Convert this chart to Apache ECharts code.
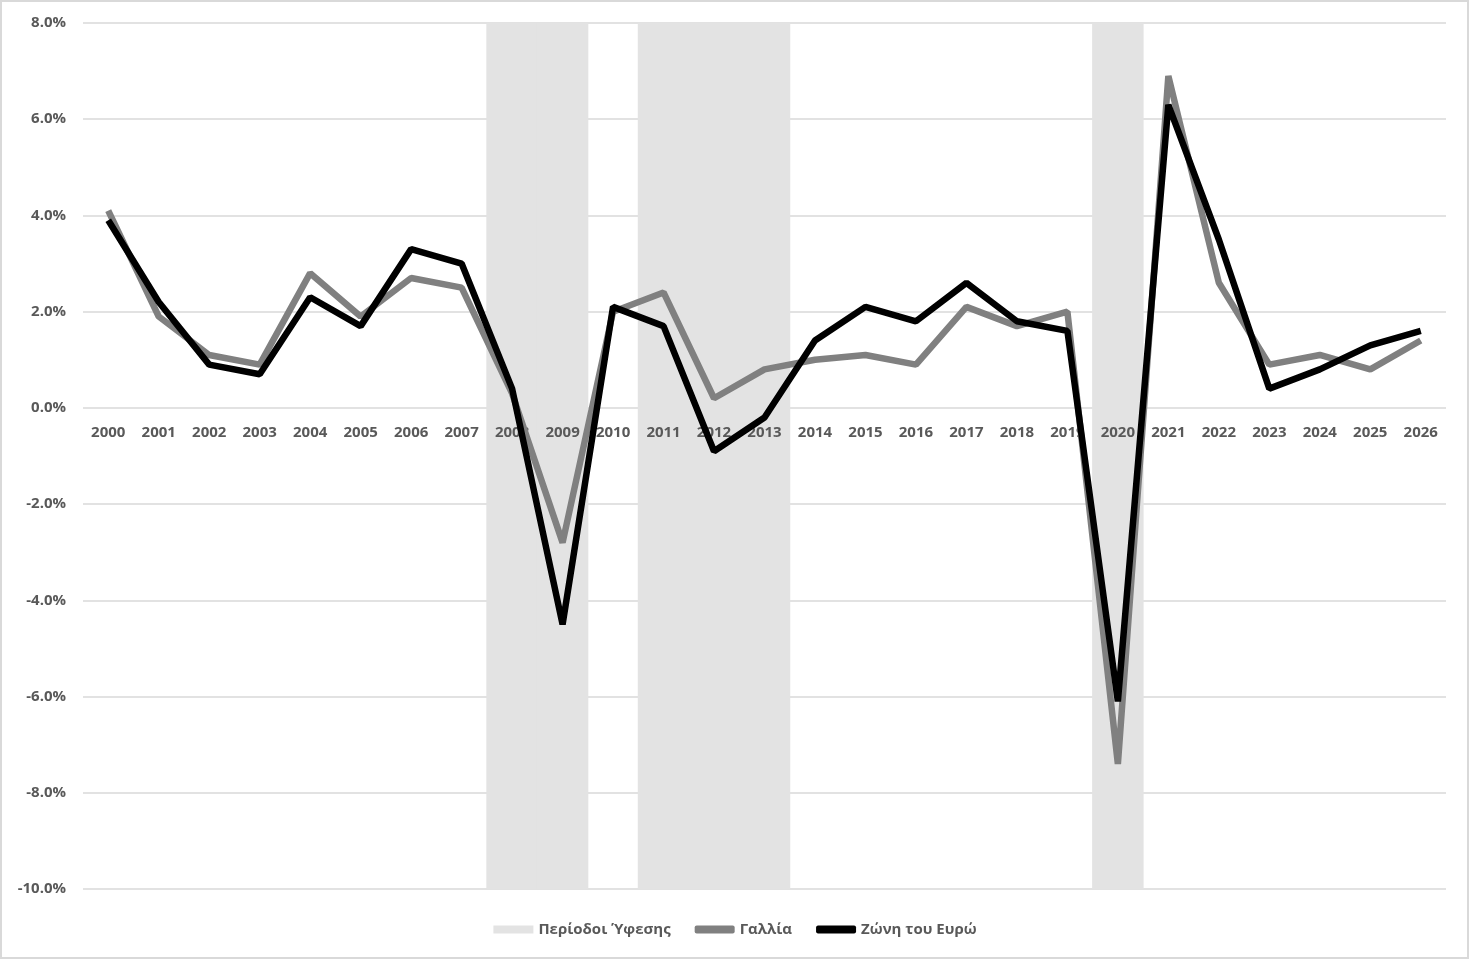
<!DOCTYPE html>
<html><head><meta charset="utf-8">
<script src="https://cdn.jsdelivr.net/npm/echarts@6/dist/echarts.min.js"></script>
<style>html,body{margin:0;padding:0;background:#fff}#c{width:1470px;height:960px}</style>
</head><body><div id="c"></div>
<script>
const years = ['2000','2001','2002','2003','2004','2005','2006','2007','2008','2009','2010','2011','2012','2013','2014','2015','2016','2017','2018','2019','2020','2021','2022','2023','2024','2025','2026'];
const france = [4.1,1.9,1.1,0.9,2.8,1.9,2.7,2.5,0.3,-2.8,2.0,2.4,0.2,0.8,1.0,1.1,0.9,2.1,1.7,2.0,-7.4,6.9,2.6,0.9,1.1,0.8,1.4];
const euro = [3.9,2.2,0.9,0.7,2.3,1.7,3.3,3.0,0.4,-4.5,2.1,1.7,-0.9,-0.2,1.4,2.1,1.8,2.6,1.8,1.6,-6.1,6.3,3.5,0.4,0.8,1.3,1.6];
const recessionYears = ['2008','2009','2011','2012','2013','2020'];
const yMin = -10, yMax = 8, yStep = 2;
const recTop = years.map(y => recessionYears.includes(y) ? yMax : null);
const recBottom = years.map(y => recessionYears.includes(y) ? yMin : null);

const font = 'Open Sans';
const labelStyle = {fontFamily: font, fontSize: 15, fontWeight: 'bold', color: '#595959'};
const chart = echarts.init(document.getElementById('c'));
chart.setOption({
  animation: false,
  backgroundColor: '#fff',
  graphic: [{type:'rect', shape:{x:1,y:1,width:1467,height:957}, style:{fill:'none', stroke:'#d9d9d9', lineWidth:2}, silent:true}],
  grid: {left: 83, right: 24, top: 23, bottom: 71},
  legend: {
    bottom: 18, left: 'center', itemGap: 24, itemWidth: 40, itemHeight: 8,
    textStyle: labelStyle,
    data: [
      {name: 'Περίοδοι Ύφεσης', icon: 'rect', itemStyle: {color: '#e3e3e3'}},
      {name: 'Γαλλία', icon: 'roundRect', itemStyle: {color: '#808080'}},
      {name: 'Ζώνη του Ευρώ', icon: 'roundRect', itemStyle: {color: '#000'}}
    ]
  },
  xAxis: {
    type: 'category', data: years, boundaryGap: true, z: 2,
    axisLine: {show: false, onZero: false}, axisTick: {show: false},
    axisLabel: Object.assign({margin: 17, interval: 0, hideOverlap: false}, labelStyle)
  },
  yAxis: {
    type: 'value', min: yMin, max: yMax, interval: yStep, z: 0,
    axisLine: {show: false}, axisTick: {show: false},
    splitLine: {lineStyle: {color: '#d9d9d9', width: 1.5}},
    axisLabel: Object.assign({margin: 17, formatter: v => v.toFixed(1) + '%'}, labelStyle)
  },
  series: [
    {name: 'Περίοδοι Ύφεσης', type: 'bar', stack: 'rec', data: recTop, barWidth: '102%', itemStyle: {color: '#e3e3e3'}, silent: true, z: 1},
    {name: 'Περίοδοι Ύφεσης', type: 'bar', stack: 'rec', data: recBottom, barWidth: '102%', itemStyle: {color: '#e3e3e3'}, silent: true, z: 1},
    {name: 'Γαλλία', type: 'line', data: france, showSymbol: false, symbol: 'none', lineStyle: {color: '#808080', width: 6.5}, itemStyle: {color: '#808080'}, z: 3},
    {name: 'Ζώνη του Ευρώ', type: 'line', data: euro, showSymbol: false, symbol: 'none', lineStyle: {color: '#000', width: 6.5}, itemStyle: {color: '#000'}, z: 4}
  ]
});
// place category labels at the zero line, as in the reference
const zeroY = chart.convertToPixel({yAxisIndex: 0}, 0);
const bottomY = chart.convertToPixel({yAxisIndex: 0}, yMin);
chart.setOption({xAxis: {offset: zeroY - bottomY}});
</script></body></html>
